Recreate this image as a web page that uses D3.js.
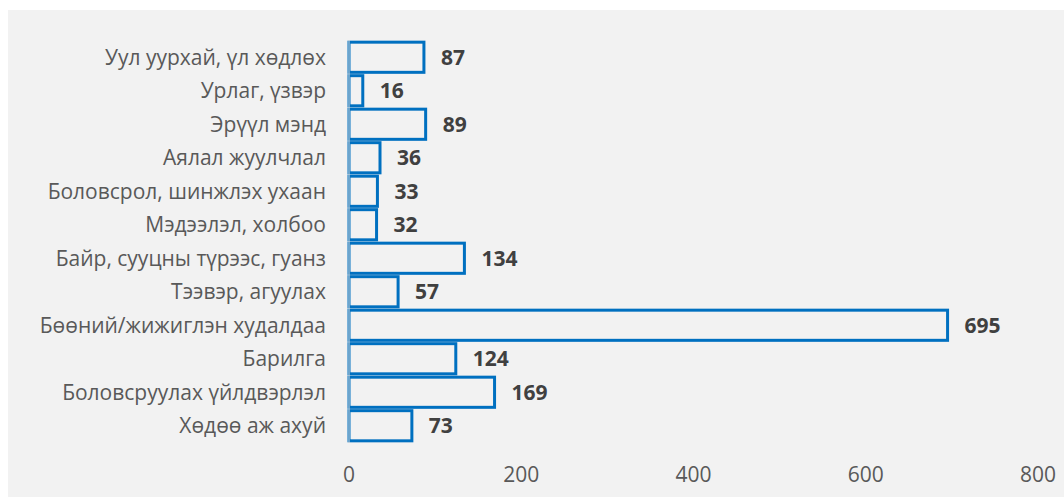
<!DOCTYPE html>
<head>
  <meta charset="utf-8">
  <title>Bar chart</title>
  <script src="https://d3js.org/d3.v7.min.js"></script>
  <style>
    body { margin: 0; background: #fff; }
    #chart { display: block; }
    text { font-family: "Open Sans", sans-serif; }
  </style>
</head>
<body>
  <svg id="chart" width="1064" height="497"></svg>
  <script>
    var categories = [
      "Уул уурхай, үл хөдлөх",
      "Урлаг, үзвэр",
      "Эрүүл мэнд",
      "Аялал жуулчлал",
      "Боловсрол, шинжлэх ухаан",
      "Мэдээлэл, холбоо",
      "Байр, сууцны түрээс, гуанз",
      "Тээвэр, агуулах",
      "Бөөний/жижиглэн худалдаа",
      "Барилга",
      "Боловсруулах үйлдвэрлэл",
      "Хөдөө аж ахуй"
    ];
    var values = [87, 16, 89, 36, 33, 32, 134, 57, 695, 124, 169, 73];
    var xTicks = [0, 200, 400, 600, 800];

    var svg = d3.select("#chart");

    // chart background
    svg.append("rect")
      .attr("x", 8).attr("y", 10)
      .attr("width", 1056).attr("height", 487)
      .attr("fill", "#f2f2f2");

    var x = d3.scaleLinear().domain([0, 800]).range([349, 1038]);
    var y = d3.scaleBand().domain(categories).range([40.5, 442.5]).paddingInner(0.1).paddingOuter(0.05);

    // bars
    svg.selectAll(".bar")
      .data(values)
      .enter()
      .append("rect")
      .attr("class", "bar")
      .attr("x", x(0))
      .attr("y", function(d, i) { return y(categories[i]); })
      .attr("width", function(d) { return x(d) - x(0); })
      .attr("height", y.bandwidth())
      .attr("fill", "#f2f2f2")
      .attr("stroke", "#0070c0")
      .attr("stroke-width", 3);

    // vertical axis line
    svg.append("line")
      .attr("x1", x(0)).attr("x2", x(0))
      .attr("y1", 40).attr("y2", 443)
      .attr("stroke", "#d9d9d9")
      .attr("stroke-width", 1);

    // value labels
    svg.selectAll(".val")
      .data(values)
      .enter()
      .append("text")
      .attr("class", "val")
      .attr("x", function(d) { return x(d) + 17; })
      .attr("y", function(d, i) { return y(categories[i]) + y.bandwidth() / 2; })
      .attr("dy", "0.35em")
      .attr("font-size", 21)
      .attr("font-weight", "bold")
      .attr("fill", "#404040")
      .text(function(d) { return d; });

    // category labels
    svg.selectAll(".cat")
      .data(categories)
      .enter()
      .append("text")
      .attr("class", "cat")
      .attr("x", 326)
      .attr("y", function(d) { return y(d) + y.bandwidth() / 2; })
      .attr("dy", "0.35em")
      .attr("text-anchor", "end")
      .attr("font-size", 21)
      .attr("fill", "#595959")
      .text(function(d) { return d; });

    // x tick labels
    svg.selectAll(".tick")
      .data(xTicks)
      .enter()
      .append("text")
      .attr("class", "tick")
      .attr("x", function(d) { return x(d); })
      .attr("y", 475)
      .attr("dy", "0.35em")
      .attr("text-anchor", "middle")
      .attr("font-size", 21)
      .attr("fill", "#595959")
      .text(function(d) { return d; });
  </script>
</body>
</html>
